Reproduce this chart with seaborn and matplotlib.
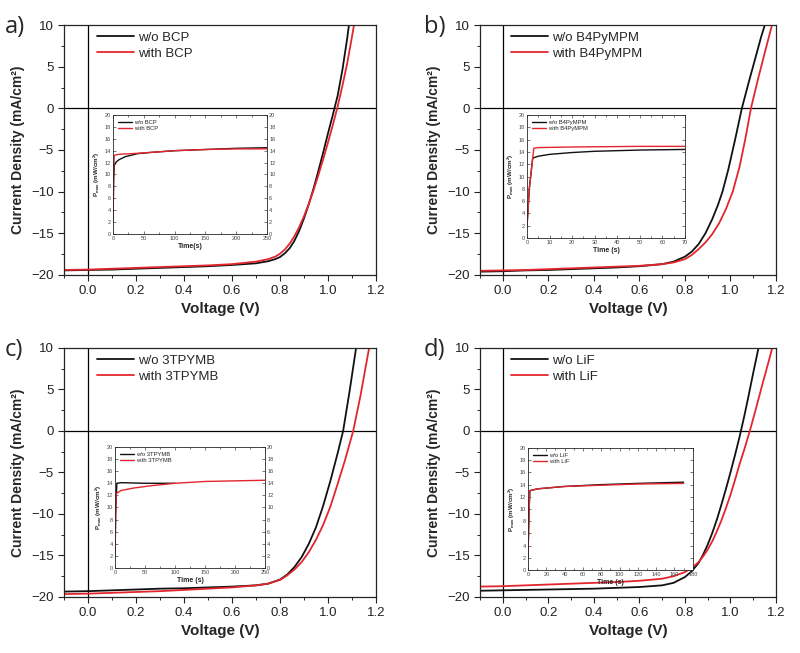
import numpy as np
import matplotlib
matplotlib.use("Agg")
import matplotlib.pyplot as plt
from matplotlib.ticker import MultipleLocator
import seaborn as sns

# ---- J-V data (voltage in V, current density in mA/cm2) ----
# a) BCP
v_a_wo = [-0.1, 0.0, 0.1, 0.2, 0.3, 0.4, 0.5, 0.6, 0.7, 0.75, 0.78, 0.8, 0.82, 0.84, 0.86, 0.88, 0.9, 0.92,
          0.94, 0.96, 0.98, 1.0, 1.02, 1.04, 1.06, 1.08, 1.09]
j_a_wo = [-19.45, -19.4, -19.35, -19.25, -19.15, -19.05, -18.95, -18.8, -18.6, -18.35, -18.1, -17.85, -17.4,
          -16.8, -15.9, -14.7, -13.2, -11.5, -9.6, -7.5, -5.3, -3.0, -0.8, 1.5, 4.6, 8.4, 10.6]
v_a_w = [-0.1, 0.0, 0.1, 0.2, 0.3, 0.4, 0.5, 0.6, 0.7, 0.75, 0.78, 0.8, 0.82, 0.84, 0.86, 0.88, 0.9, 0.92,
         0.94, 0.96, 0.98, 1.0, 1.02, 1.04, 1.06, 1.08, 1.1, 1.11]
j_a_w = [-19.4, -19.35, -19.25, -19.15, -19.05, -18.95, -18.85, -18.7, -18.4, -18.1, -17.8, -17.45, -16.95,
         -16.25, -15.35, -14.25, -12.95, -11.45, -9.8, -8.0, -6.1, -4.1, -2.0, 0.2, 2.7, 5.4, 8.6, 10.3]

# b) B4PyMPM
v_b_wo = [-0.1, 0.0, 0.1, 0.2, 0.3, 0.4, 0.5, 0.6, 0.7, 0.75, 0.8, 0.83, 0.86, 0.89, 0.92, 0.945, 0.965,
          0.99, 1.02, 1.05, 1.08, 1.11, 1.135, 1.16]
j_b_wo = [-19.6, -19.55, -19.45, -19.4, -19.3, -19.2, -19.1, -18.95, -18.7, -18.4, -17.8, -17.2, -16.3,
          -15.0, -13.3, -11.6, -10.0, -7.4, -3.8, 0.0, 3.1, 6.1, 8.6, 10.8]
v_b_w = [-0.1, 0.0, 0.1, 0.2, 0.3, 0.4, 0.5, 0.6, 0.7, 0.75, 0.8, 0.83, 0.86, 0.89, 0.92, 0.95, 0.98,
         1.01, 1.04, 1.065, 1.09, 1.12, 1.15, 1.17, 1.19]
j_b_w = [-19.5, -19.45, -19.4, -19.3, -19.2, -19.1, -19.0, -18.9, -18.7, -18.5, -18.1, -17.6, -16.9,
         -16.1, -15.1, -13.8, -12.1, -10.0, -7.0, -3.7, 0.0, 3.4, 6.6, 8.7, 10.8]

# c) 3TPYMB
v_c_wo = [-0.1, 0.0, 0.1, 0.2, 0.3, 0.4, 0.5, 0.6, 0.7, 0.75, 0.8, 0.83, 0.86, 0.89, 0.92, 0.95, 0.98,
          1.01, 1.04, 1.063, 1.09, 1.117, 1.13]
j_c_wo = [-19.35, -19.3, -19.2, -19.1, -19.0, -18.95, -18.85, -18.75, -18.6, -18.4, -17.9, -17.3, -16.4,
          -15.2, -13.6, -11.6, -9.0, -6.0, -2.7, 0.0, 4.8, 10.0, 12.5]
v_c_w = [-0.1, 0.0, 0.1, 0.2, 0.3, 0.4, 0.5, 0.6, 0.7, 0.75, 0.8, 0.83, 0.86, 0.89, 0.92, 0.95, 0.98,
         1.01, 1.04, 1.07, 1.105, 1.135, 1.16, 1.175]
j_c_w = [-19.65, -19.6, -19.5, -19.4, -19.3, -19.15, -19.0, -18.85, -18.6, -18.4, -17.95, -17.4, -16.7,
         -15.8, -14.6, -13.1, -11.3, -9.1, -6.4, -3.6, 0.0, 4.2, 8.2, 10.6]

# d) LiF
v_d_wo = [-0.1, 0.0, 0.1, 0.2, 0.3, 0.4, 0.5, 0.6, 0.7, 0.75, 0.8, 0.83, 0.86, 0.88, 0.9, 0.92, 0.94,
          0.96, 0.98, 1.0, 1.02, 1.04, 1.06, 1.08, 1.1, 1.12, 1.135]
j_d_wo = [-19.25, -19.2, -19.15, -19.1, -19.05, -19.0, -18.9, -18.8, -18.6, -18.3, -17.6, -16.9, -15.9,
          -14.9, -13.7, -12.3, -10.7, -8.9, -7.0, -5.0, -2.9, -0.7, 1.7, 4.3, 7.0, 9.6, 11.3]
v_d_w = [-0.1, 0.0, 0.1, 0.2, 0.3, 0.4, 0.5, 0.6, 0.7, 0.75, 0.8, 0.83, 0.86, 0.88, 0.9, 0.92, 0.94,
         0.96, 0.98, 1.0, 1.02, 1.04, 1.06, 1.085, 1.11, 1.14, 1.17, 1.19]
j_d_w = [-18.75, -18.7, -18.6, -18.5, -18.4, -18.3, -18.2, -18.05, -17.8, -17.5, -17.0, -16.5, -15.8,
         -15.1, -14.3, -13.3, -12.1, -10.8, -9.3, -7.7, -5.9, -4.0, -2.3, 0.0, 2.5, 5.6, 8.6, 10.7]

# ---- inset data: Pmax (mW/cm2) vs time (s) ----
t_a_wo = [0, 1, 2, 5, 10, 20, 40, 60, 100, 150, 200, 250]
p_a_wo = [2.0, 9.0, 11.5, 12.1, 12.5, 13.0, 13.5, 13.7, 14.0, 14.2, 14.4, 14.5]
t_a_w = [0, 1, 2, 5, 10, 30, 60, 100, 150, 200, 250]
p_a_w = [2.0, 11.0, 13.2, 13.3, 13.4, 13.5, 13.7, 14.0, 14.2, 14.3, 14.3]

t_b_wo = [0, 1, 2.5, 5, 10, 20, 30, 50, 70]
p_b_wo = [2.0, 8.0, 13.0, 13.3, 13.6, 13.9, 14.1, 14.3, 14.4]
t_b_w = [0, 1, 3, 5, 20, 50, 70]
p_b_w = [2.0, 8.0, 14.6, 14.7, 14.8, 14.9, 14.9]

t_c_wo = [0, 1, 3, 10, 50, 100]
p_c_wo = [2.0, 9.0, 14.0, 14.1, 14.0, 14.0]
t_c_w = [0, 1, 2, 10, 30, 60, 100, 150, 200, 250]
p_c_w = [2.0, 9.0, 12.3, 12.8, 13.2, 13.6, 14.0, 14.3, 14.4, 14.5]

t_d_wo = [0, 1, 2, 10, 40, 80, 120, 170]
p_d_wo = [2.0, 9.0, 13.0, 13.3, 13.7, 14.0, 14.2, 14.4]
t_d_w = [0, 1, 2, 10, 40, 80, 120, 170]
p_d_w = [2.0, 9.0, 13.0, 13.3, 13.7, 13.9, 14.1, 14.2]

layers = ["BCP", "B4PyMPM", "3TPYMB", "LiF"]
panel_tags = ["a)", "b)", "c)", "d)"]
time_labels = ["Time(s)", "Time (s)", "Time (s)", "Time (s)"]
time_max = [250, 70, 250, 180]
time_step = [50, 10, 50, 20]

BLACK = "#111111"
RED = "#e3262d"

sns.set_style("ticks")
plt.rcParams["font.family"] = ["Liberation Sans", "DejaVu Sans"]
plt.rcParams["mathtext.default"] = "regular"

fig = plt.figure(figsize=(8, 6.53), dpi=100)

main_pos = [
    [0.080, 0.5789, 0.390, 0.3828],
    [0.600, 0.5789, 0.370, 0.3828],
    [0.080, 0.0858, 0.390, 0.3813],
    [0.600, 0.0858, 0.370, 0.3813],
]
inset_pos = [
    [0.1413, 0.6417, 0.1925, 0.1822],
    [0.6588, 0.6355, 0.1975, 0.1884],
    [0.1438, 0.1302, 0.1875, 0.1853],
    [0.6600, 0.1271, 0.2060, 0.1868],
]
inset_right_labels = [True, False, True, False]

jv = [
    (v_a_wo, j_a_wo, v_a_w, j_a_w),
    (v_b_wo, j_b_wo, v_b_w, j_b_w),
    (v_c_wo, j_c_wo, v_c_w, j_c_w),
    (v_d_wo, j_d_wo, v_d_w, j_d_w),
]
pt = [
    (t_a_wo, p_a_wo, t_a_w, p_a_w),
    (t_b_wo, p_b_wo, t_b_w, p_b_w),
    (t_c_wo, p_c_wo, t_c_w, p_c_w),
    (t_d_wo, p_d_wo, t_d_w, p_d_w),
]

for i in range(4):
    ax = fig.add_axes(main_pos[i])
    v1, j1, v2, j2 = jv[i]
    ax.axhline(0, color="black", lw=0.9, zorder=1)
    ax.axvline(0, color="black", lw=0.9, zorder=1)
    sns.lineplot(x=v1, y=j1, ax=ax, color=BLACK, lw=1.3, label="w/o " + layers[i], sort=False)
    sns.lineplot(x=v2, y=j2, ax=ax, color=RED, lw=1.3, label="with " + layers[i], sort=False)
    ax.set_xlim(-0.1, 1.2)
    ax.set_ylim(-20, 10)
    ax.xaxis.set_major_locator(MultipleLocator(0.2))
    ax.xaxis.set_minor_locator(MultipleLocator(0.1))
    ax.yaxis.set_major_locator(MultipleLocator(5))
    ax.yaxis.set_minor_locator(MultipleLocator(2.5))
    ax.tick_params(which="major", direction="out", length=4, width=0.8, labelsize=9.5, colors="#222222")
    ax.tick_params(which="minor", direction="out", length=2.5, width=0.7)
    for s in ax.spines.values():
        s.set_linewidth(0.9)
        s.set_visible(True)
    ax.set_xlabel("Voltage (V)", fontsize=11, fontweight="bold", labelpad=3)
    ax.set_ylabel("Current Density (mA/cm²)", fontsize=10, fontweight="bold", labelpad=4)
    ax.legend(loc="upper left", bbox_to_anchor=(0.075, 1.01), frameon=False, fontsize=9.5,
              handlelength=2.8, labelspacing=0.25, handletextpad=0.3, borderaxespad=0.3)
    ax.text(-0.19, 1.04, panel_tags[i], transform=ax.transAxes, fontsize=17,
            family=["Open Sans", "DejaVu Sans"], va="top", ha="left")

    # inset with Pmax vs time
    ins = fig.add_axes(inset_pos[i])
    t1, p1, t2, p2 = pt[i]
    sns.lineplot(x=t1, y=p1, ax=ins, color=BLACK, lw=1.0, label="w/o " + layers[i], sort=False)
    sns.lineplot(x=t2, y=p2, ax=ins, color=RED, lw=1.0, label="with " + layers[i], sort=False)
    ins.set_xlim(0, time_max[i])
    ins.set_ylim(0, 20)
    ins.xaxis.set_major_locator(MultipleLocator(time_step[i]))
    ins.xaxis.set_minor_locator(MultipleLocator(time_step[i] / 2))
    ins.yaxis.set_major_locator(MultipleLocator(2))
    ins.tick_params(which="both", direction="in", top=True, right=True, labelsize=4,
                    length=2, width=0.5, pad=1.5, colors="#444444",
                    labelright=inset_right_labels[i])
    ins.tick_params(which="minor", length=1.2)
    for s in ins.spines.values():
        s.set_linewidth(0.6)
        s.set_visible(True)
    ins.set_xlabel(time_labels[i], fontsize=5, fontweight="bold", labelpad=1.5)
    ins.set_ylabel("P$_{max}$ (mW/cm$^2$)", fontsize=4.5, fontweight="bold", labelpad=1.5)
    ins.legend(loc="upper left", frameon=False, fontsize=4.2, handlelength=2.5,
               labelspacing=0.2, handletextpad=0.3, borderaxespad=0.4)

fig.savefig("out.png", dpi=100)
